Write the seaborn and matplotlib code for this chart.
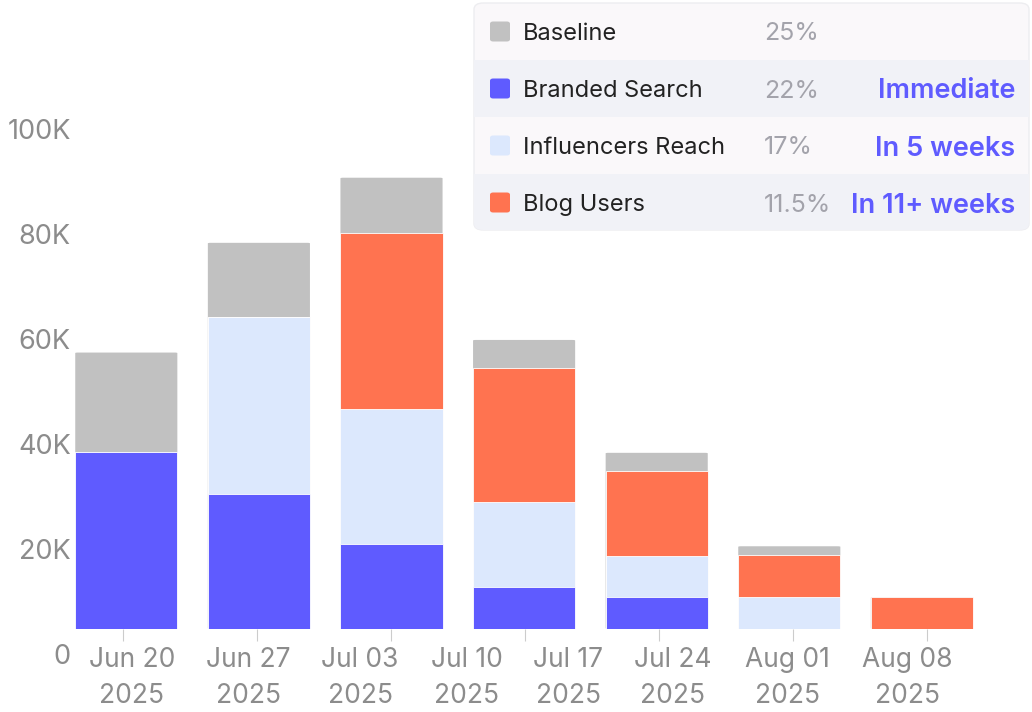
import numpy as np
import pandas as pd
import seaborn as sns
import matplotlib.pyplot as plt
from matplotlib.patches import FancyBboxPatch, Rectangle
from matplotlib.transforms import ScaledTranslation

# data (values in thousands of users)
weeks = ["w1", "w2", "w3", "w4", "w5", "w6", "w7"]
branded = [33.7, 25.6, 16.1, 7.9, 6.0, 0.0, 0.0]
influencers = [0.0, 33.8, 25.7, 16.2, 7.9, 6.0, 0.0]
blog = [0.0, 0.0, 33.6, 25.6, 16.2, 8.0, 6.0]
baseline = [18.9, 14.1, 10.5, 5.3, 3.4, 1.7, 0.0]

date_labels = ["Jun 20\n2025", "Jun 27\n2025", "Jul 03\n2025", "Jul 10\n2025",
               "Jul 17\n2025", "Jul 24\n2025", "Aug 01\n2025", "Aug 08\n2025"]
y_ticks = [0, 20, 40, 60, 80, 100]
y_labels = ["0", "20K", "40K", "60K", "80K", "100K"]

series_names = ["Baseline", "Branded Search", "Influencers Reach", "Blog Users"]
shares = ["25%", "22%", "17%", "11.5%"]
lags = ["", "Immediate", "In 5 weeks", "In 11+ weeks"]

c_gray = "#c1c1c1"
c_blue = "#5f5bff"
c_light = "#dce8fd"
c_orange = "#ff7350"
colors = [c_gray, c_blue, c_light, c_orange]
tick_gray = "#8c8c8c"

df = pd.DataFrame({"week": weeks, "branded": branded, "influencers": influencers,
                   "blog": blog, "baseline": baseline})
df["s1"] = df["branded"] * 1000
df["s2"] = df["s1"] + df["influencers"] * 1000
df["s3"] = df["s2"] + df["blog"] * 1000
df["s4"] = df["s3"] + df["baseline"] * 1000

sns.set_style("white")
plt.rcParams["font.family"] = ["Inter", "DejaVu Sans"]

W, H = 1032, 712
fig = plt.figure(figsize=(W / 100, H / 100), dpi=100)
ax = fig.add_axes([75 / W, (H - 628.7) / H, (1000 - 75) / W, (628.7 - 60) / H])

for col, c in [("s4", c_gray), ("s3", c_orange), ("s2", c_light), ("s1", c_blue)]:
    sns.barplot(data=df, x="week", y=col, color=c, width=0.77, ax=ax,
                edgecolor="white", linewidth=0.6, saturation=1)

# round the top corners of the tallest layer
for p in ax.patches[:len(weeks)]:
    x0, w_, h_ = p.get_x(), p.get_width(), p.get_height()
    if h_ <= 0:
        continue
    p.set_visible(False)
    rb = FancyBboxPatch((x0, 0), w_, h_, boxstyle="round,pad=0,rounding_size=0.02",
                        facecolor=c_gray, edgecolor="none", mutation_aspect=5000,
                        zorder=p.get_zorder() - 0.1)
    ax.add_patch(rb)

ax.set_xlim((75 - 126.3) / 132.6, (1000 - 126.3) / 132.6)
ax.set_ylim(0, (628.7 - 60) / 105 * 20000)
sns.despine(ax=ax, left=True, bottom=True)
ax.set_xlabel("")
ax.set_ylabel("")

# x axis: tick marks and date labels sit on slightly different grids
tick_pos = [(-3.6 + 134 * i) / 132.6 for i in range(7)]
label_px = [131.7, 248, 360, 466.7, 568, 673, 787.7, 907.7]
label_pos = [(p - 126.3) / 132.6 for p in label_px]
ax.set_xticks(tick_pos)
ax.set_xticklabels([""] * len(tick_pos))
ax.set_xticks(label_pos, minor=True)
ax.set_xticklabels(date_labels, minor=True, fontsize=19, color=tick_gray,
                   linespacing=1.5)
ax.tick_params(axis="x", which="major", length=8.6, width=0.8, color="#cccccc",
               bottom=True, direction="out")
ax.tick_params(axis="x", which="minor", length=0, pad=13)

ax.set_yticks([v * 1000 for v in y_ticks])
ax.set_yticklabels(y_labels, fontsize=19.5, color=tick_gray)
ax.tick_params(axis="y", length=0, pad=3)
shift = ScaledTranslation(0, -25.5 / 100, fig.dpi_scale_trans)
for lbl in ax.get_yticklabels():
    lbl.set_transform(lbl.get_transform() + shift)


# legend table in the top right corner
def fx(px):
    return px / W


def fy(py):
    return 1 - py / H


box = FancyBboxPatch((fx(474), fy(230)), fx(1029) - fx(474), fy(3) - fy(230),
                     boxstyle="round,pad=0,rounding_size=0.009",
                     transform=fig.transFigure, facecolor="#faf8fa",
                     edgecolor="#ededf0", linewidth=1)
fig.add_artist(box)
row_h = 57
for i in range(4):
    top = 3 + row_h * i
    if i % 2 == 1:
        r = Rectangle((fx(474), fy(top + row_h)), fx(1029) - fx(474), row_h / H,
                      transform=fig.transFigure, facecolor="#f1f2f7", edgecolor="none")
        fig.add_artist(r)
        r.set_clip_path(box)
    cy = fy(top + row_h / 2)
    sq = FancyBboxPatch((fx(490), cy - 10 / H), 20 / W, 20 / H,
                        boxstyle="round,pad=0,rounding_size=0.003",
                        transform=fig.transFigure, facecolor=colors[i], edgecolor="none")
    fig.add_artist(sq)
    fig.text(fx(523), cy, series_names[i], fontsize=17, color="#222222",
             va="center_baseline", ha="left")
    fig.text(fx(764), cy, shares[i], fontsize=18, color="#a3a3ab",
             va="center_baseline", ha="left")
    if lags[i]:
        fig.text(fx(1015), cy, lags[i], fontsize=19.5, color=c_blue, fontweight=600,
                 va="center_baseline", ha="right")

fig.savefig("out.png", dpi=100)
